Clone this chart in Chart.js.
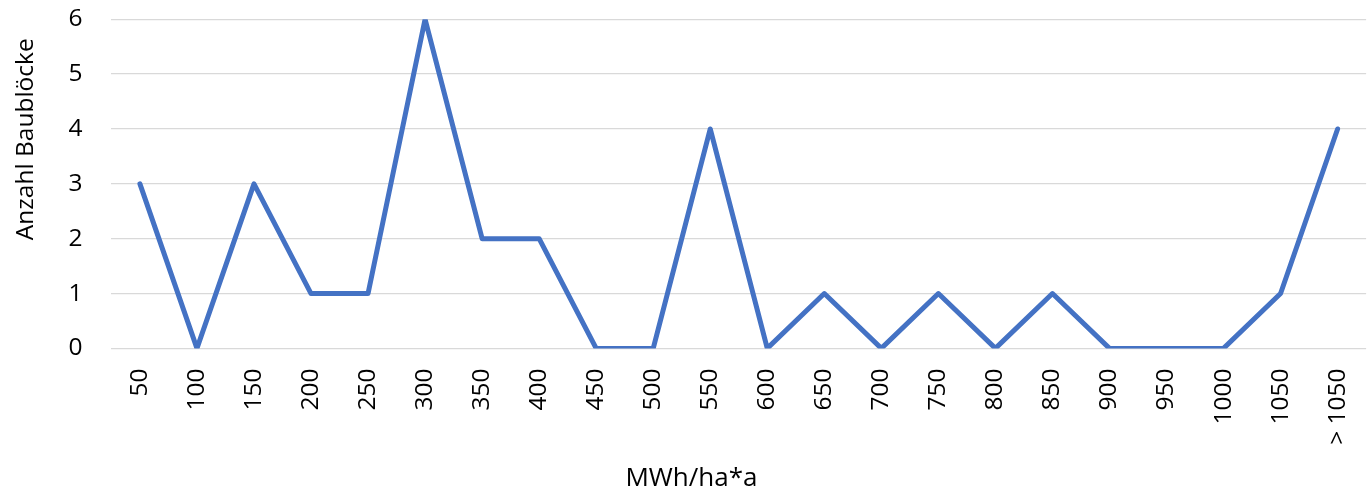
<!DOCTYPE html>
<html>
<head>
<meta charset="utf-8">
<script src="https://cdn.jsdelivr.net/npm/chart.js"></script>
<style>
  html, body { margin: 0; padding: 0; background: #fff; }
  #wrap { width: 1371px; height: 493px; }
</style>
</head>
<body>
<div id="wrap"><canvas id="myChart" width="1371" height="493"></canvas></div>
<script>
// categories (MWh/ha*a) and number of blocks
const categories = ["50", "100", "150", "200", "250", "300", "350", "400", "450", "500", "550",
  "600", "650", "700", "750", "800", "850", "900", "950", "1000", "1050", "> 1050"];
const counts = [3, 0, 3, 1, 1, 6, 2, 2, 0, 0, 4, 0, 1, 0, 1, 0, 1, 0, 0, 0, 1, 4];
const yTicks = [0, 1, 2, 3, 4, 5, 6];

const font = "'Open Sans', sans-serif";
const nb = (n) => "\u00a0".repeat(n); // spacing to shift the axis titles off centre like the original

const config = {
  type: "line",
  data: {
    labels: categories,
    datasets: [{
      data: counts,
      borderColor: "#4472C4",
      borderWidth: 5,
      pointRadius: 0,
      tension: 0,
      borderJoinStyle: "round",
      borderCapStyle: "round",
      fill: false
    }]
  },
  options: {
    responsive: false,
    devicePixelRatio: 1,
    animation: false,
    layout: { padding: { top: 0, right: 0, bottom: -1, left: 0 } },
    plugins: { legend: { display: false }, tooltip: { enabled: false } },
    scales: {
      x: {
        offset: true,
        // grid hidden, tick length only used as spacing below the plot
        grid: { display: false, drawTicks: true, tickLength: 16 },
        border: { display: false },
        ticks: {
          color: "#000",
          font: { family: font, size: 24.5 },
          minRotation: 90,
          maxRotation: 90,
          autoSkip: false,
          padding: 4
        },
        title: {
          display: true,
          text: "MWh/ha*a" + nb(14),
          color: "#000",
          font: { family: font, size: 26 },
          padding: { top: 14, bottom: 0 }
        }
      },
      y: {
        min: 0,
        max: 6,
        afterBuildTicks: (axis) => { axis.ticks = yTicks.map(v => ({ value: v })); },
        grid: { color: "#d9d9d9", lineWidth: 1.3, drawTicks: true, tickLength: 22, tickColor: "rgba(0,0,0,0)" },
        border: { display: false },
        ticks: {
          color: "#000",
          font: { family: font, size: 24.5, lineHeight: 1 },
          padding: 7
        },
        title: {
          display: true,
          text: nb(14) + "Anzahl Baublöcke",
          color: "#000",
          font: { family: font, size: 24.5 },
          padding: { top: 11, bottom: 21 }
        }
      }
    }
  }
};

new Chart(document.getElementById("myChart"), config);
</script>
</body>
</html>
